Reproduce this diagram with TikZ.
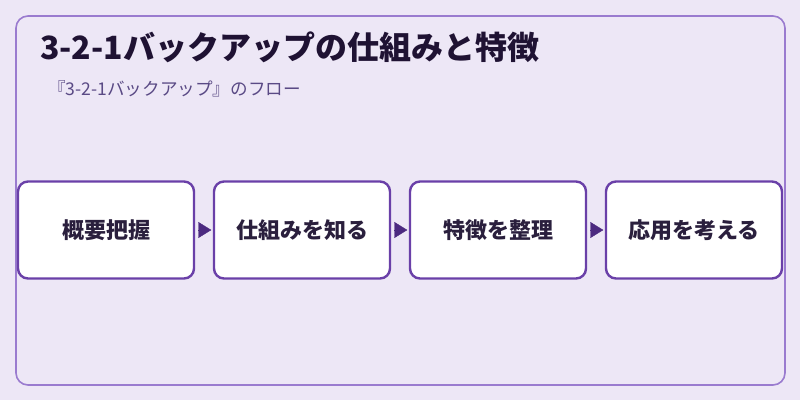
\documentclass[tikz,border=0pt]{standalone}
\usepackage{fontspec}
\setmainfont{Noto Sans CJK JP}
\usetikzlibrary{arrows.meta}
\definecolor{bgc}{HTML}{EDE7F6}
\definecolor{framec}{HTML}{9A7BCF}
\definecolor{boxc}{HTML}{6A40A8}
\definecolor{arrc}{HTML}{4C2A80}
\definecolor{titlec}{HTML}{1F1233}
\definecolor{subc}{HTML}{5A4A85}
\definecolor{textc}{HTML}{2A1F3D}
\tikzset{
  stepbox/.style={draw=boxc, line width=2.4pt, fill=white, rounded corners=10pt,
    minimum width=176pt, minimum height=97pt, inner sep=0pt,
    font=\fontsize{22pt}{25pt}\selectfont\bfseries, text=textc},
  flowarrow/.style={draw=arrc, line width=0.4pt, -{Triangle[length=13pt,width=16pt]}, shorten <=3.4pt, shorten >=1.5pt}
}
\begin{document}
\begin{tikzpicture}[x=1pt,y=-1pt]
\useasboundingbox (0,0) rectangle (800,400);
\fill[bgc] (0,0) rectangle (800,400);
\draw[framec, line width=1.6pt, rounded corners=12pt] (16,16) rectangle (785,385);
\node[anchor=base west, inner sep=0pt, text=titlec, font=\fontsize{32pt}{36pt}\selectfont\bfseries] (title) at (40,59) {3-2-1バックアップの仕組みと特徴};
\node[anchor=base west, inner sep=0pt, text=subc, font=\fontsize{17.6pt}{20pt}\selectfont] (sub) at (48,95) {『3-2-1バックアップ』のフロー};
\node[stepbox] (b1) at (106,230) {概要把握};
\node[stepbox] (b2) at (302,230) {仕組みを知る};
\node[stepbox] (b3) at (498,230) {特徴を整理};
\node[stepbox] (b4) at (694,230) {応用を考える};
\draw[flowarrow] (b1) -- (b2);
\draw[flowarrow] (b2) -- (b3);
\draw[flowarrow] (b3) -- (b4);
\end{tikzpicture}
\end{document}
